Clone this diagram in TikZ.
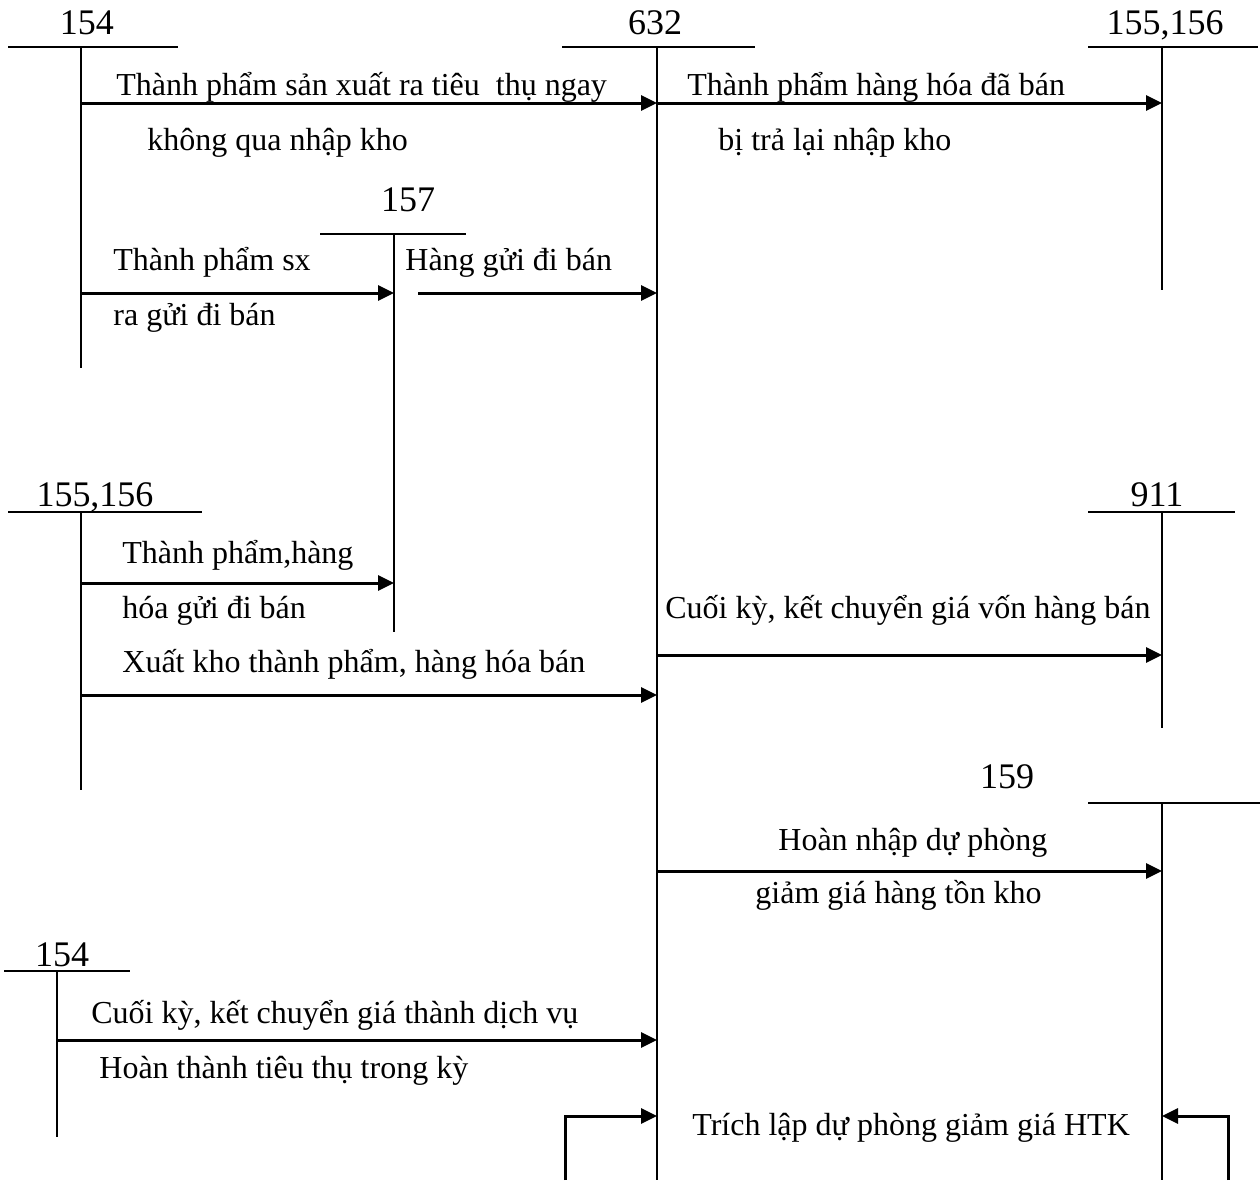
\documentclass[tikz,border=0pt]{standalone}
\usepackage{fontspec}
\setmainfont{Liberation Serif}
\usepackage{tikz}
\usetikzlibrary{arrows.meta}

\begin{document}
\begin{tikzpicture}[x=0.5pt,y=-0.5pt,>={Triangle[length=8pt,width=7.5pt]},
  font=\fontsize{16}{19}\selectfont,
  tline/.style={line width=1pt},
  flow/.style={->,line width=1.5pt},
  txt/.style={inner sep=0pt,anchor=base west},
  acc/.style={inner sep=0pt,anchor=base,font=\fontsize{18}{21}\selectfont}]
\useasboundingbox (0,0) rectangle (1260,1180);
% T accounts
\draw[tline] (8,47) -- (178,47) (81,47) -- (81,368);
\node[acc] (n154a) at (87,34) {154};
\draw[tline] (562,47) -- (755,47) (657,47) -- (657,1180);
\node[acc] (n632) at (655,34) {632};
\draw[tline] (1088,47) -- (1258,47) (1162,47) -- (1162,290);
\node[acc] (n155a) at (1165,34) {155,156};
\draw[tline] (320,234) -- (466,234) (394,234) -- (394,632);
\node[acc] (n157) at (408,211) {157};
\draw[tline] (8,512) -- (202,512) (81,512) -- (81,790);
\node[acc] (n155b) at (95,506) {155,156};
\draw[tline] (1088,512) -- (1235,512) (1162,512) -- (1162,728);
\node[acc] (n911) at (1157,506) {911};
\draw[tline] (1088,803) -- (1260,803) (1162,803) -- (1162,1180);
\node[acc] (n159) at (1007,788) {159};
\draw[tline] (4,971) -- (130,971) (57,971) -- (57,1137);
\node[acc] (n154b) at (62,966) {154};

% arrow ends
\coordinate (a1) at (81,103);   \coordinate (b1) at (657,103);
\coordinate (a2) at (657,103);  \coordinate (b2) at (1162,103);
\coordinate (a3) at (81,293);   \coordinate (b3) at (394,293);
\coordinate (a4) at (418,293);  \coordinate (b4) at (657,293);
\coordinate (a5) at (81,583);   \coordinate (b5) at (394,583);
\coordinate (a6) at (81,695);   \coordinate (b6) at (657,695);
\coordinate (a7) at (657,655);  \coordinate (b7) at (1162,655);
\coordinate (a8) at (657,871);  \coordinate (b8) at (1162,871);
\coordinate (a9) at (57,1040);  \coordinate (b9) at (657,1040);
\coordinate (a10) at (565,1180); \coordinate (b10) at (657,1116);
\coordinate (a11) at (1228,1180); \coordinate (b11) at (1162,1116);

\draw[flow] (a1) -- (b1);
\draw[flow] (a2) -- (b2);
\draw[flow] (a3) -- (b3);
\draw[flow] (a4) -- (b4);
\draw[flow] (a5) -- (b5);
\draw[flow] (a6) -- (b6);
\draw[flow] (a7) -- (b7);
\draw[flow] (a8) -- (b8);
\draw[flow] (a9) -- (b9);
\draw[flow] (a10) |- (b10);
\draw[flow] (a11) |- (b11);

% texts
\node[txt] (t1a) at (116,95) {Thành phẩm sản xuất ra tiêu\ \ thụ ngay};
\node[txt] (t1b) at (147,150) {không qua nhập kho};
\node[txt] (t2a) at (687,95) {Thành phẩm hàng hóa đã bán};
\node[txt] (t2b) at (718,150) {bị trả lại nhập kho};
\node[txt] (t3a) at (113,270) {Thành phẩm sx};
\node[txt] (t3b) at (113,325) {ra gửi đi bán};
\node[txt] (t4) at (405,270) {Hàng gửi đi bán};
\node[txt] (t5a) at (122,563) {Thành phẩm,hàng};
\node[txt] (t5b) at (122,618) {hóa gửi đi bán};
\node[txt] (t6) at (122,672) {Xuất kho thành phẩm, hàng hóa bán};
\node[txt] (t7) at (665,618) {Cuối kỳ, kết chuyển giá vốn hàng bán};
\node[txt] (t8a) at (778,850) {Hoàn nhập dự phòng};
\node[txt] (t8b) at (755,903) {giảm giá hàng tồn kho};
\node[txt] (t9a) at (91,1023) {Cuối kỳ, kết chuyển giá thành dịch vụ};
\node[txt] (t9b) at (99,1078) {Hoàn thành tiêu thụ trong kỳ};
\node[txt] (t10) at (692,1135) {Trích lập dự phòng giảm giá HTK};
\end{tikzpicture}
\end{document}
